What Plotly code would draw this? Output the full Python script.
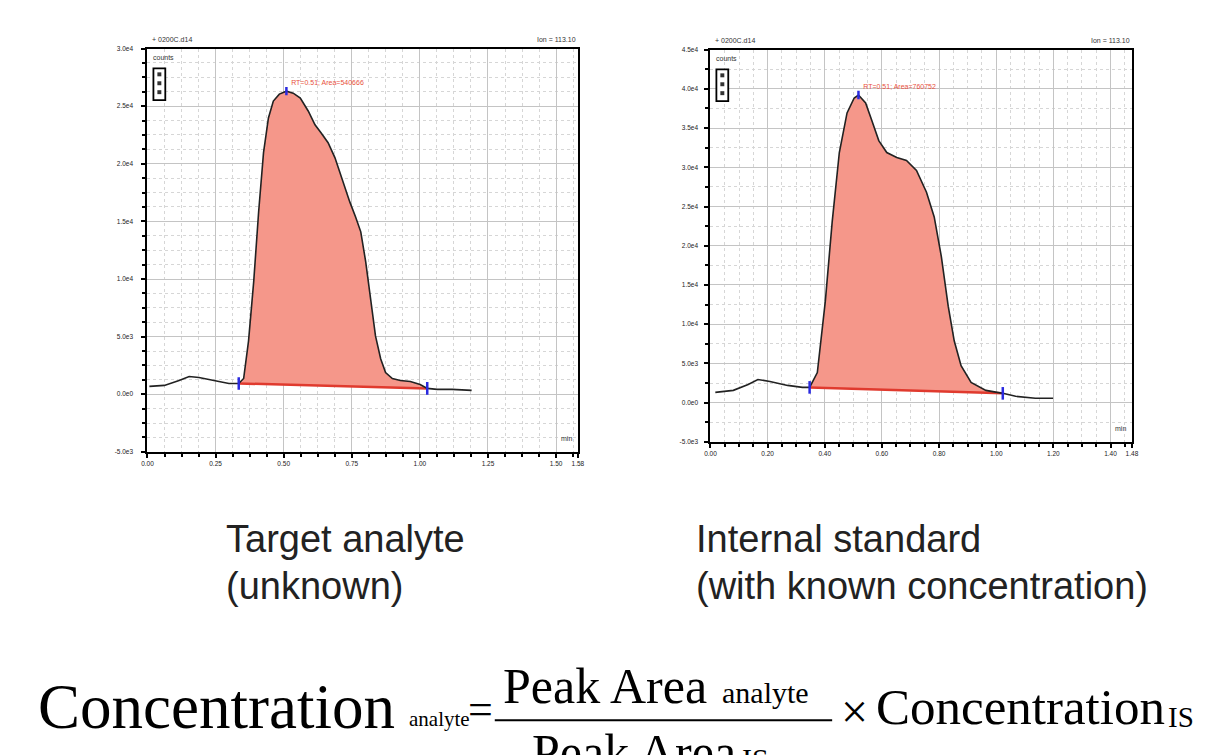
import plotly.graph_objects as go

# ---------------- data ----------------
left_t = [0.007, 0.062, 0.116, 0.153, 0.189, 0.244, 0.299, 0.335, 0.353, 0.371, 0.390,
          0.408, 0.426, 0.444, 0.462, 0.484, 0.510, 0.535, 0.561, 0.590, 0.615, 0.637,
          0.663, 0.688, 0.717, 0.743, 0.764, 0.783, 0.801, 0.819, 0.837, 0.856, 0.874,
          0.899, 0.928, 0.965, 1.001, 1.027, 1.063, 1.118, 1.190]
left_counts = [676, 762, 1192, 1536, 1450, 1192, 934, 934, 1364, 4632, 9792,
               15812, 20972, 23982, 25444, 26046, 26304, 26132, 25702, 24584, 23380, 22692,
               21832, 20542, 18392, 16672, 15382, 14092, 11512, 8072, 5062, 3084, 1880,
               1364, 1192, 1106, 848, 504, 418, 418, 332]
left_peak_start, left_peak_end, left_apex = 0.335, 1.027, 0.510
left_label = "RT=0.51; Area=540666"

right_t = [0.017, 0.080, 0.132, 0.166, 0.208, 0.270, 0.322, 0.347, 0.374, 0.402, 0.426,
           0.451, 0.478, 0.503, 0.518, 0.543, 0.565, 0.589, 0.617, 0.652, 0.686, 0.721,
           0.756, 0.783, 0.808, 0.832, 0.853, 0.877, 0.912, 0.964, 1.023, 1.068, 1.137, 1.199]
right_counts = [1315, 1568, 2325, 2957, 2704, 2199, 1947, 1947, 3841, 12935, 23039,
                31880, 36932, 38826, 39205, 38195, 35921, 33395, 31880, 31248, 30869, 29606,
                26828, 23670, 18618, 12303, 7883, 4725, 2578, 1568, 1189, 810, 557, 557]
right_peak_start, right_peak_end, right_apex = 0.347, 1.023, 0.518
right_label = "RT=0.51; Area=760752"

left_xticks = [0, 0.25, 0.5, 0.75, 1.0, 1.25, 1.5, 1.58]
left_xlabels = ["0.00", "0.25", "0.50", "0.75", "1.00", "1.25", "1.50", "1.58"]
left_yticks = [-5000, 0, 5000, 10000, 15000, 20000, 25000, 30000]
left_ylabels = ["-5.0e3", "0.0e0", "5.0e3", "1.0e4", "1.5e4", "2.0e4", "2.5e4", "3.0e4"]

right_xticks = [0, 0.2, 0.4, 0.6, 0.8, 1.0, 1.2, 1.4, 1.475]
right_xlabels = ["0.00", "0.20", "0.40", "0.60", "0.80", "1.00", "1.20", "1.40", "1.48"]
right_yticks = [-5000, 0, 5000, 10000, 15000, 20000, 25000, 30000, 35000, 40000, 45000]
right_ylabels = ["-5.0e3", "0.0e0", "5.0e3", "1.0e4", "1.5e4", "2.0e4", "2.5e4",
                 "3.0e4", "3.5e4", "4.0e4", "4.5e4"]

file_label = "+ 0200C.d14"
ion_label = "Ion = 113.10"

W, H = 1227, 755
FILL = "#F5978A"
RED = "#E03A2E"
BLUE = "#2A2AE0"

fig = go.Figure()


def add_panel(n, t, c, start, end, apex, label):
    xa = "x" if n == 1 else "x2"
    ya = "y" if n == 1 else "y2"
    seg_t = [tt for tt in t if start <= tt <= end]
    seg_c = [cc for tt, cc in zip(t, c) if start <= tt <= end]
    c_start = c[t.index(start)]
    c_end = c[t.index(end)]
    fig.add_trace(go.Scatter(x=seg_t + [end, start], y=seg_c + [c_end, c_start],
                             fill="toself", fillcolor=FILL, mode="none",
                             xaxis=xa, yaxis=ya, showlegend=False, hoverinfo="skip"))
    fig.add_trace(go.Scatter(x=[start, end], y=[c_start, c_end], mode="lines",
                             line=dict(color=RED, width=2.5),
                             xaxis=xa, yaxis=ya, showlegend=False))
    fig.add_trace(go.Scatter(x=t, y=c, mode="lines", line=dict(color="#222222", width=1.6),
                             xaxis=xa, yaxis=ya, showlegend=False))
    fig.add_trace(go.Scatter(x=[start, end], y=[c_start, c_end], mode="markers",
                             marker=dict(symbol="line-ns", size=9, line=dict(color=BLUE, width=2.5)),
                             xaxis=xa, yaxis=ya, showlegend=False))
    apex_c = c[t.index(apex)]
    fig.add_trace(go.Scatter(x=[apex], y=[apex_c], mode="markers+text",
                             marker=dict(symbol="line-ns", size=6, line=dict(color=BLUE, width=2.5)),
                             text=[label], textposition="top right",
                             textfont=dict(color="#E8503C", size=7, family="Liberation Sans"),
                             xaxis=xa, yaxis=ya, showlegend=False))


add_panel(1, left_t, left_counts, left_peak_start, left_peak_end, left_apex, left_label)
add_panel(2, right_t, right_counts, right_peak_start, right_peak_end, right_apex, right_label)


def axis_common():
    return dict(ticks="outside", ticklen=4, tickwidth=1.5, tickcolor="black",
                showline=True, linewidth=2.2, linecolor="black", mirror=True,
                showgrid=True, gridcolor="#c4c4c4", gridwidth=1, zeroline=False,
                tickfont=dict(size=6.5, color="#222222", family="Liberation Sans"),
                tickmode="array")


def minor(dt):
    return dict(tickmode="linear", tick0=0, dtick=dt, ticks="outside", ticklen=3,
                tickcolor="black", showgrid=True, gridcolor="#d6d6d6", griddash="dot")


lx = [143 / W, 578 / W]
ly = [1 - 452 / H, 1 - 45 / H]
rx = [712 / W, 1138 / W]
ry = [1 - 442 / H, 1 - 46 / H]

fig.update_layout(
    width=W, height=H, margin=dict(l=0, r=0, t=0, b=0),
    paper_bgcolor="white", plot_bgcolor="white", showlegend=False,
    xaxis=dict(domain=lx, range=[0, 1.58], tickvals=left_xticks, ticktext=left_xlabels,
               anchor="y", minor=minor(0.0625), **axis_common()),
    yaxis=dict(domain=ly, range=[-5000, 30000], tickvals=left_yticks, ticktext=left_ylabels,
               anchor="x", minor=minor(1250), ticklabelstandoff=7, **axis_common()),
    xaxis2=dict(domain=rx, range=[0, 1.475], tickvals=right_xticks, ticktext=right_xlabels,
                anchor="y2", minor=minor(0.05), **axis_common()),
    yaxis2=dict(domain=ry, range=[-5000, 45000], tickvals=right_yticks, ticktext=right_ylabels,
                anchor="x2", minor=minor(2500), ticklabelstandoff=5, **axis_common()),
)

small = dict(size=7, color="#333333", family="Liberation Sans")
ann = []
shapes = []
for (dx, dy) in [(lx, ly), (rx, ry)]:
    x0, x1 = dx
    y0, y1 = dy
    ann.append(dict(x=x0 + 3 / W, y=y1 + 4 / H, xref="paper", yref="paper", text=file_label,
                    showarrow=False, xanchor="left", yanchor="bottom", font=small))
    ann.append(dict(x=x1, y=y1 + 4 / H, xref="paper", yref="paper", text=ion_label,
                    showarrow=False, xanchor="right", yanchor="bottom", font=small))
    ann.append(dict(x=x0 + 4 / W, y=y1 - 3 / H, xref="paper", yref="paper", text="counts",
                    showarrow=False, xanchor="left", yanchor="top", font=small))
    ann.append(dict(x=x1 - 4 / W, y=y0 + 8 / H, xref="paper", yref="paper", text="min",
                    showarrow=False, xanchor="right", yanchor="bottom", font=small))
    shapes.append(dict(type="rect", xref="paper", yref="paper",
                       x0=x0 + 6 / W, x1=x0 + 18 / W, y0=y1 - 52 / H, y1=y1 - 20 / H,
                       line=dict(color="black", width=1.8), fillcolor="white"))
    for k in range(3):
        shapes.append(dict(type="rect", xref="paper", yref="paper",
                           x0=x0 + 10 / W, x1=x0 + 14 / W,
                           y0=y1 - (28 + 9 * k) / H, y1=y1 - (24 + 9 * k) / H,
                           line=dict(width=0), fillcolor="#333333"))

cap = dict(size=38, color="#222222", family="Liberation Sans")
for txt, x, y in [("Target analyte", 220, 540), ("(unknown)", 220, 587),
                  ("Internal standard", 695, 540), ("(with known concentration)", 695, 587)]:
    ann.append(dict(x=x / W, y=1 - y / H, xref="paper", yref="paper", text=txt,
                    showarrow=False, xanchor="left", yanchor="middle", font=cap))

serif = "Liberation Serif"
formula = [
    ("Concentration", 30, 710, 63),
    ("analyte", 405, 722, 21),
    ("=", 465, 712, 44),
    ("Peak Area", 500, 688, 50),
    ("analyte", 722, 695, 30),
    ("Peak Area", 530, 755, 50),
    ("IS", 742, 762, 30),
    ("×", 842, 714, 48),
    ("Concentration", 877, 710, 51),
    ("IS", 1172, 720, 29),
]
for txt, x, y, s in formula:
    ann.append(dict(x=x / W, y=1 - y / H, xref="paper", yref="paper", text=txt,
                    showarrow=False, xanchor="left", yanchor="middle",
                    font=dict(size=s, color="black", family=serif)))
shapes.append(dict(type="line", xref="paper", yref="paper", x0=494 / W, x1=835 / W,
                   y0=1 - 723 / H, y1=1 - 723 / H, line=dict(color="black", width=2)))

fig.update_layout(annotations=ann, shapes=shapes)
fig.write_html("out.html", config={"displayModeBar": False})

# remove the default page margin so the figure sits at the window's top-left corner
with open("out.html", "r", encoding="utf-8") as f:
    html = f.read()
html = html.replace("<head>", "<head><style>html,body{margin:0;padding:0;overflow:hidden;}</style>", 1)
with open("out.html", "w", encoding="utf-8") as f:
    f.write(html)
